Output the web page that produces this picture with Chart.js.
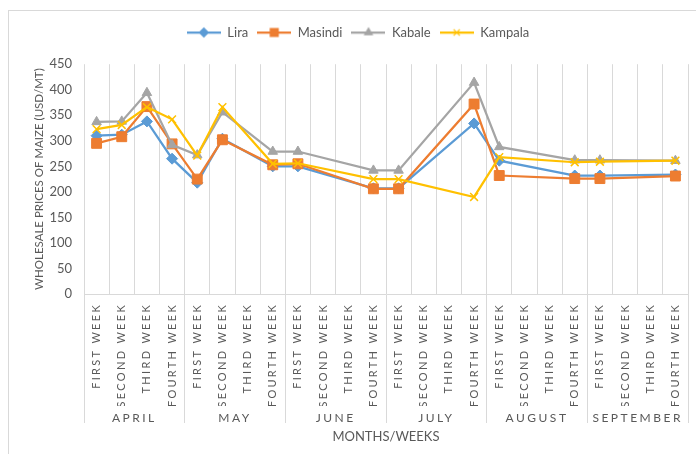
<!DOCTYPE html>
<html lang="en">
<head>
<meta charset="UTF-8">
<script src="https://cdn.jsdelivr.net/npm/chart.js@4.4.1/dist/chart.umd.min.js"></script>
<style>
  html, body { margin: 0; padding: 0; background: #fff; }
  #wrap { width: 696px; height: 454px; }
</style>
</head>
<body>
<div id="wrap"><canvas id="chart" width="696" height="454"></canvas></div>
<script>
// weekly wholesale maize prices (USD/MT); null = no reading that week
const weeks = ['FIRST WEEK', 'SECOND WEEK', 'THIRD WEEK', 'FOURTH WEEK'];
const months = ['APRIL', 'MAY', 'JUNE', 'JULY', 'AUGUST', 'SEPTEMBER'];
const weekLabels = months.flatMap(() => weeks);

const lira    = [310, 312, 338, 265, 218, 304, null, 250, 250, null, null, 207, 207, null, null, 334, 261, null, null, 232, 232, null, null, 234];
const masindi = [295, 308, 367, 294, 225, 302, null, 253, 255, null, null, 206, 206, null, null, 372, 232, null, null, 226, 226, null, null, 231];
const kabale  = [337, 338, 394, 292, 272, 356, null, 279, 279, null, null, 242, 242, null, null, 414, 288, null, null, 262, 262, null, null, 261];
const kampala = [323, 331, 366, 342, 271, 366, null, 255, 256, null, null, 225, 225, null, null, 190, 268, null, null, 258, 259, null, null, 261];

const GRID = '#d9d9d9';
const TXT = '#595959';
const FONT = 'Lato, "Open Sans", sans-serif';

// legend icon: short line with the marker in the middle, like Excel
function legendIcon(color, style, radius) {
    const c = document.createElement('canvas');
    c.width = 34; c.height = 14;
    const g = c.getContext('2d');
    g.strokeStyle = color;
    g.fillStyle = color;
    g.lineWidth = 2.25;
    g.beginPath(); g.moveTo(0, 7); g.lineTo(34, 7); g.stroke();
    g.lineWidth = 1.2;
    Chart.helpers.drawPoint(g, { pointStyle: style, radius: radius, borderWidth: 1.2, rotation: 0 }, 17, 7);
    return c;
}

function series(label, data, color, style, radius, order) {
    return {
        label: label,
        data: data,
        borderColor: color,
        backgroundColor: color,
        borderWidth: 2.25,
        pointStyle: style,
        pointRadius: radius,
        pointHoverRadius: radius,
        pointBorderWidth: style === 'crossRot' ? 1.5 : 1,
        tension: 0,
        spanGaps: true,
        order: order,
        icon: legendIcon(color, style, radius * 0.8)
    };
}

const frame = {
    id: 'frame',
    beforeDraw(chart) {
        const ctx = chart.ctx;
        ctx.save();
        ctx.fillStyle = '#fff';
        ctx.fillRect(0, 0, chart.width, chart.height);
        ctx.strokeStyle = GRID;
        ctx.lineWidth = 1;
        ctx.strokeRect(8.5, 10.5, 700, 460);
        ctx.restore();
    }
};

// spaced-out letters for the category labels
function spaceLabels(scale, px) {
    if (scale._spaced) return;
    const orig = scale.drawLabels.bind(scale);
    scale.drawLabels = function (area) {
        const ctx = scale.ctx;
        ctx.save();
        ctx.letterSpacing = px;
        orig(area);
        ctx.restore();
    };
    scale._spaced = true;
}

const ctx = document.getElementById('chart').getContext('2d');
const chart = new Chart(ctx, {
    type: 'line',
    data: {
        labels: weekLabels,
        datasets: [
            series('Lira', lira, '#5B9BD5', 'rectRot', 5.5, 3),
            series('Masindi', masindi, '#ED7D31', 'rect', 7, 2),
            series('Kabale', kabale, '#A5A5A5', 'triangle', 5.5, 1),
            series('Kampala', kampala, '#FFC000', 'crossRot', 5.5, 0)
        ]
    },
    options: {
        responsive: false,
        animation: false,
        devicePixelRatio: 1,
        layout: { padding: { left: 28, right: 8, top: 17, bottom: 0 } },
        plugins: {
            tooltip: { enabled: false },
            // empty spacer between the legend and the plot
            subtitle: {
                display: true,
                text: '',
                weight: 500,
                font: { size: 1 },
                padding: { top: 7, bottom: 7 }
            },
            legend: {
                position: 'top',
                labels: {
                    usePointStyle: true,
                    pointStyleWidth: 34,
                    padding: 9,
                    color: TXT,
                    font: { family: FONT, size: 13 },
                    generateLabels(chart) {
                        return chart.data.datasets.map((ds, i) => ({
                            text: ds.label,
                            pointStyle: ds.icon,
                            fillStyle: ds.borderColor,
                            strokeStyle: ds.borderColor,
                            fontColor: TXT,
                            lineWidth: 0,
                            hidden: false,
                            datasetIndex: i
                        }));
                    }
                }
            }
        },
        scales: {
            x: {
                type: 'category',
                position: 'bottom',
                weight: 0,
                offset: true,
                grid: {
                    offset: true,
                    color: GRID,
                    lineWidth: 1,
                    drawTicks: true,
                    tickLength: 129,
                    tickColor: (c) => (c.index === undefined || c.index % 4 === 0) ? GRID : 'rgba(0,0,0,0)'
                },
                border: { display: true, color: GRID },
                ticks: {
                    autoSkip: false,
                    minRotation: 90,
                    maxRotation: 90,
                    padding: -120,
                    color: TXT,
                    font: { family: FONT, size: 11 }
                },
                afterFit(scale) { scale.height = 112; spaceLabels(scale, '2.3px'); }
            },
            x2: {
                type: 'category',
                position: 'bottom',
                weight: 1,
                labels: months,
                offset: true,
                bounds: 'ticks',
                grid: { display: false, drawTicks: false },
                border: { display: false },
                ticks: {
                    padding: 5,
                    color: TXT,
                    font: { family: FONT, size: 12 }
                },
                title: {
                    display: true,
                    text: 'MONTHS/WEEKS',
                    color: TXT,
                    font: { family: FONT, size: 13 },
                    padding: { top: 9, bottom: 9 }
                },
                afterFit(scale) { scale.height = 48; spaceLabels(scale, '2.5px'); }
            },
            y: {
                min: 0,
                max: 450,
                grid: { display: false, drawTicks: false },
                border: { display: false },
                ticks: {
                    stepSize: 50,
                    padding: 12,
                    color: TXT,
                    font: { family: FONT, size: 13 }
                },
                title: {
                    display: true,
                    text: 'WHOLESALE PRICES OF MAIZE (USD/MT)',
                    color: TXT,
                    font: { family: FONT, size: 11.5 },
                    padding: { top: 4, bottom: 0 }
                },
                afterFit(scale) { scale.width = 56; }
            }
        }
    },
    plugins: [frame]
});
</script>
</body>
</html>
